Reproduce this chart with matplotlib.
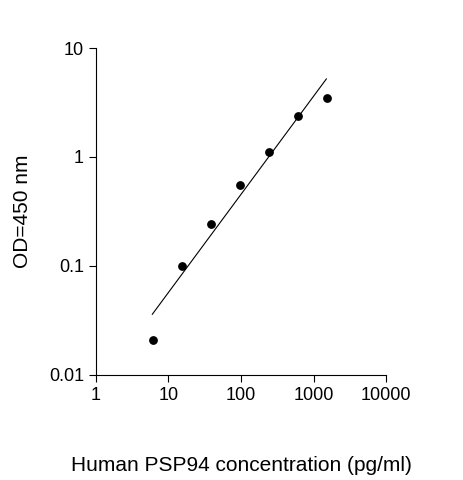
import matplotlib.pyplot as plt
from matplotlib.ticker import FixedLocator, NullLocator

plt.rcParams['font.family'] = ['Liberation Sans', 'DejaVu Sans']

conc = [6.1, 15.6, 39, 97, 244, 610, 1520]
od = [0.021, 0.10, 0.24, 0.55, 1.1, 2.4, 3.5]
fit_x = [6.0, 1500]
fit_y = [0.036, 5.2]

fig = plt.figure(figsize=(4.63, 4.8), dpi=100)
ax = fig.add_axes([0.207, 0.219, 0.627, 0.681])
ax.plot(fit_x, fit_y, color='black', lw=0.8)
ax.scatter(conc, od, color='black', s=28, zorder=3)
ax.set_xscale('log')
ax.set_yscale('log')
ax.set_xlim(1, 10000)
ax.set_ylim(0.01, 10)
xt = [1, 10, 100, 1000, 10000]
yt = [0.01, 0.1, 1, 10]
ax.xaxis.set_major_locator(FixedLocator(xt))
ax.yaxis.set_major_locator(FixedLocator(yt))
ax.xaxis.set_minor_locator(NullLocator())
ax.yaxis.set_minor_locator(NullLocator())
ax.set_xticklabels([str(v) for v in xt], fontsize=13)
ax.set_yticklabels(['0.01', '0.1', '1', '10'], fontsize=13)
ax.tick_params(direction='out', length=5)
for s in ['top', 'right']:
    ax.spines[s].set_visible(False)
ax.set_xlabel('Human PSP94 concentration (pg/ml)', fontsize=15, labelpad=38)
ax.set_ylabel('OD=450 nm', fontsize=15, labelpad=12)
fig.savefig('out.png', dpi=100)
